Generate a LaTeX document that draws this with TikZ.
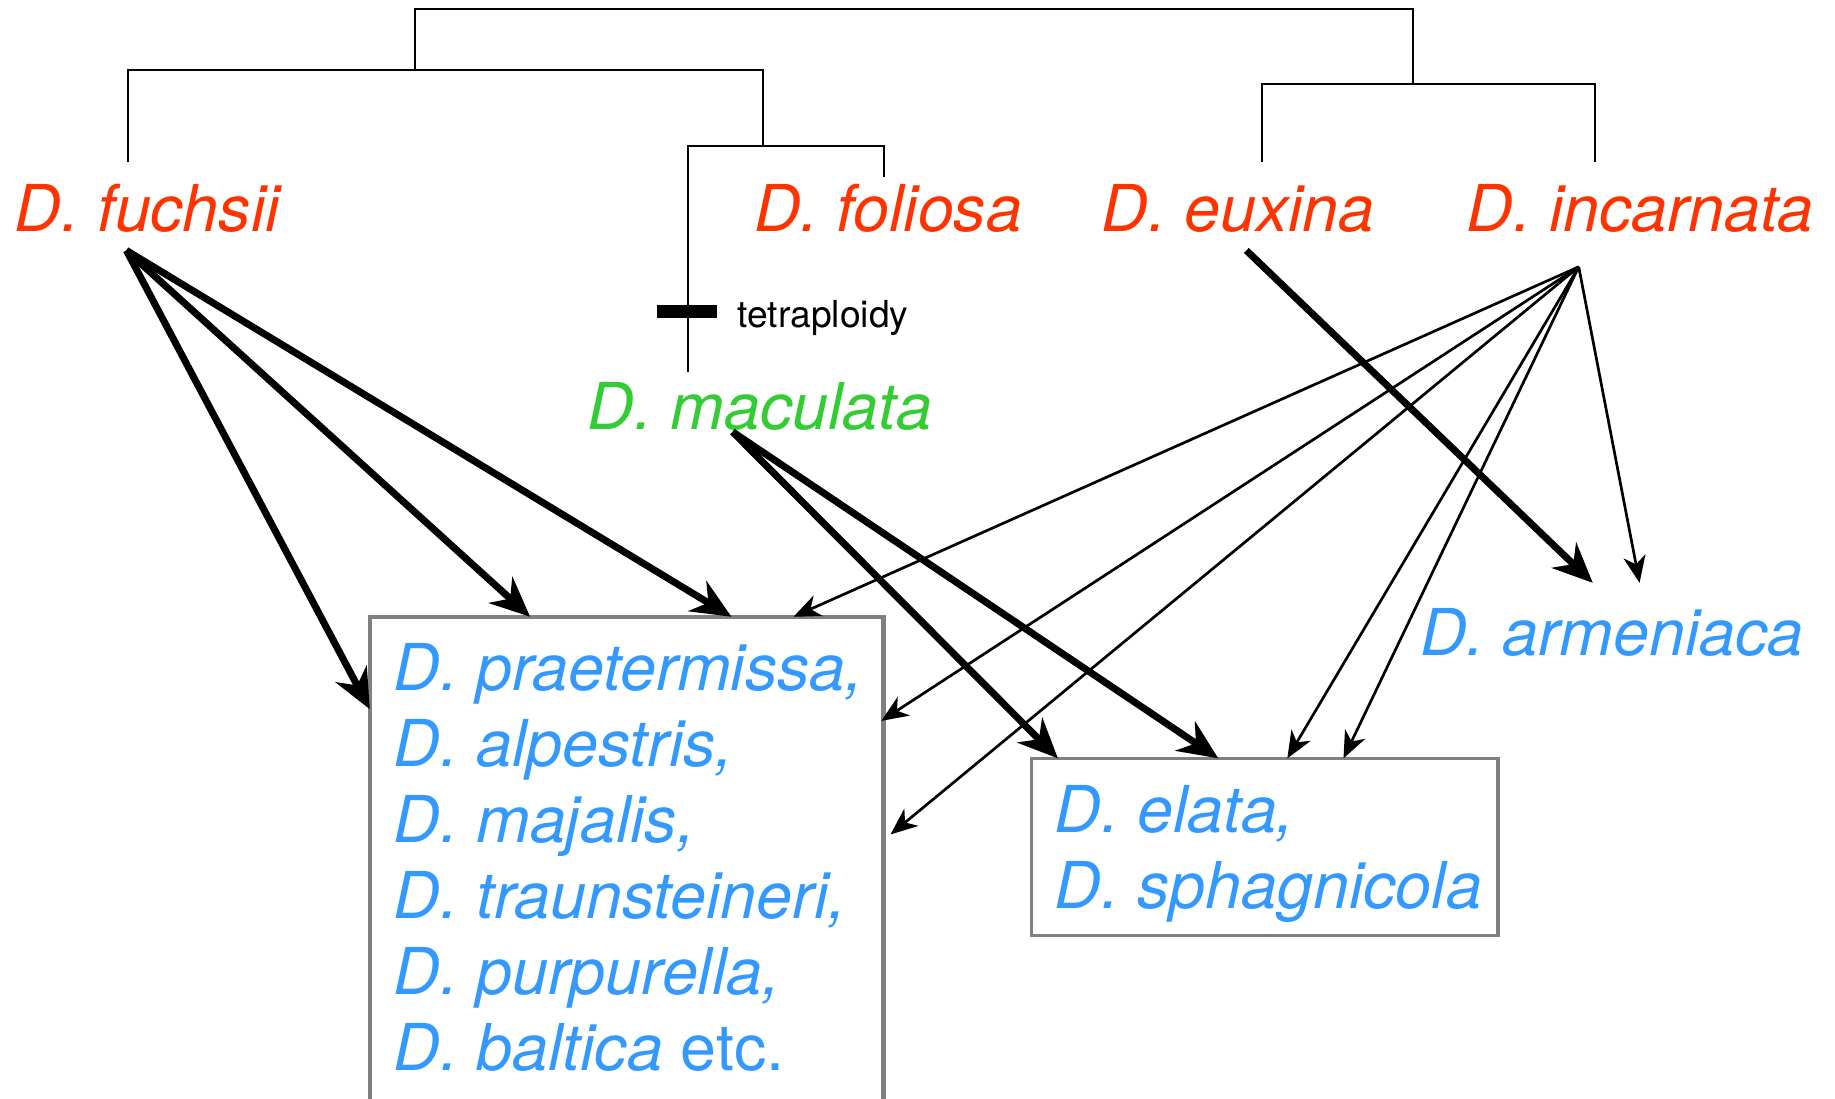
\documentclass[tikz,border=0pt]{standalone}
\usepackage{fontspec}
\setmainfont{TeX Gyre Heros}
\usetikzlibrary{arrows.meta,fit}
\definecolor{redsp}{RGB}{255,51,0}
\definecolor{greensp}{RGB}{51,204,51}
\definecolor{bluesp}{RGB}{51,153,255}
\definecolor{boxgray}{RGB}{128,128,128}
\begin{document}
\begin{tikzpicture}[x=0.5pt,y=-0.5pt,
  species/.style={anchor=base west, inner sep=0pt, font=\fontsize{27.6}{32}\selectfont\itshape},
  parentsp/.style={species, text=redsp},
  hybridsp/.style={species, text=bluesp},
  treeline/.style={line width=0.85pt},
  bigarrow/.style={line width=3pt, -{Stealth[length=17pt,width=15pt,inset=5.5pt]}},
  smallarrow/.style={line width=1.15pt, -{Stealth[length=11.5pt,width=9.5pt,inset=3.5pt]}},
  framebox/.style={draw=boxgray, inner sep=0pt}
]
\useasboundingbox (0,0) rectangle (1568,939);
\clip (0,0) rectangle (1568,939);

% species labels
\node[parentsp] (fuchsii) at (12,198) {D. fuchsii};
\node[parentsp] (foliosa) at (644,198) {D. foliosa};
\node[parentsp] (euxina) at (941,198) {D. euxina};
\node[parentsp] (incarnata) at (1253,198) {D. incarnata};
\node[species, text=greensp] (maculata) at (502,367) {D. maculata};
\node[hybridsp] (armeniaca) at (1213,560) {D. armeniaca};

% tree
\coordinate (root) at (355,8);
\coordinate (rootR) at (1207.5,8);
\coordinate (nL) at (355,60);
\coordinate (nFu) at (109,60);
\coordinate (nFoM) at (652,60);
\coordinate (nFoMb) at (652,124.5);
\coordinate (nMac) at (588,124.5);
\coordinate (nFol) at (755,124.5);
\coordinate (nR) at (1207.5,72);
\coordinate (nEu) at (1078,72);
\coordinate (nIn) at (1363,72);
\coordinate (lFu) at (109,138);
\coordinate (lFo) at (755,151);
\coordinate (lMac) at (588,318);
\coordinate (lEu) at (1078,138);
\coordinate (lIn) at (1363,138);
\draw[treeline] (nL) -- (root) -- (rootR) -- (nR);
\draw[treeline] (lFu) -- (nFu) -- (nFoM) -- (nFoMb);
\draw[treeline] (lMac) -- (nMac) -- (nFol) -- (lFo);
\draw[treeline] (lEu) -- (nEu) -- (nIn) -- (lIn);
\coordinate (tbL) at (561,266.5);
\coordinate (tbR) at (613,266.5);
\draw[line width=5.5pt] (tbL) -- (tbR);
\node[anchor=base west, inner sep=0pt, font=\fontsize{15.9}{19}\selectfont] (tetra) at (630,280) {tetraploidy};

% boxes
\node[framebox, line width=1.8pt, fit={(316,527)(755,941)}] (boxL) {};
\node[hybridsp] (l1) at (336,590) {D. praetermissa,};
\node[hybridsp] (l2) at (336,655) {D. alpestris,};
\node[hybridsp] (l3) at (336,720) {D. majalis,};
\node[hybridsp] (l4) at (336,785) {D. traunsteineri,};
\node[hybridsp] (l5) at (336,850) {D. purpurella,};
\node[hybridsp] (l6) at (336,915) {D. baltica {\upshape etc.}};

\node[framebox, line width=1.3pt, fit={(881,648)(1280,799)}] (boxR) {};
\node[hybridsp] (r1) at (901,711) {D. elata,};
\node[hybridsp] (r2) at (901,776) {D. sphagnicola};

% arrow origins and tips
\coordinate (fuO) at (108,214);
\coordinate (macO) at (626,369);
\coordinate (euxO) at (1065,214);
\coordinate (incO) at (1349,228);
\coordinate (t1) at (316,606);
\coordinate (t2) at (453,527);
\coordinate (t3) at (625,527);
\coordinate (t4) at (904,648);
\coordinate (t5) at (1041,648);
\coordinate (t6) at (1361,498);
\coordinate (t7) at (678,527);
\coordinate (t8) at (753,616);
\coordinate (t9) at (761,713);
\coordinate (t10) at (1100,648);
\coordinate (t11) at (1148,648);
\coordinate (t12) at (1401,498);

\draw[bigarrow] (fuO) -- (t1);
\draw[bigarrow] (fuO) -- (t2);
\draw[bigarrow] (fuO) -- (t3);
\draw[bigarrow] (macO) -- (t4);
\draw[bigarrow] (macO) -- (t5);
\draw[bigarrow] (euxO) -- (t6);
\draw[smallarrow] (incO) -- (t7);
\draw[smallarrow] (incO) -- (t8);
\draw[smallarrow] (incO) -- (t9);
\draw[smallarrow] (incO) -- (t10);
\draw[smallarrow] (incO) -- (t11);
\draw[smallarrow] (incO) -- (t12);
\end{tikzpicture}
\end{document}
